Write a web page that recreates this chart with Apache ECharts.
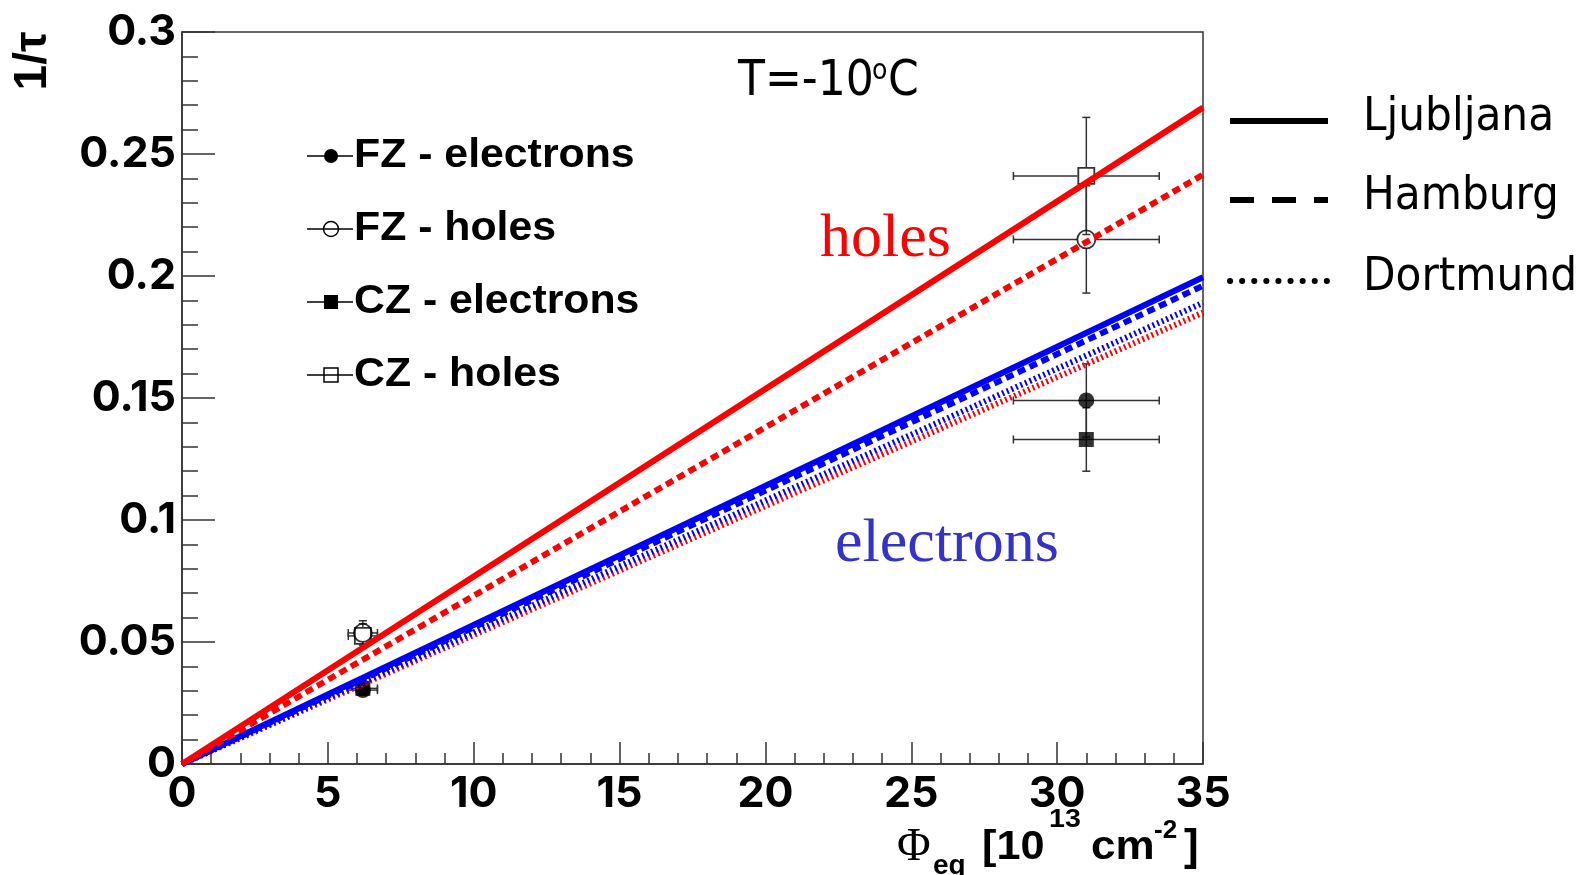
<!DOCTYPE html>
<html>
<head>
<meta charset="utf-8">
<script src="https://cdn.jsdelivr.net/npm/echarts@6/dist/echarts.min.js"></script>
<style>
html,body{margin:0;padding:0;background:#fff;}
#chart{width:1576px;height:875px;}
</style>
</head>
<body>
<div id="chart"></div>
<script>
// ---- data ----
const fluenceRange = [0, 35];
// 1/tau at the start and end of the range (lines through origin)
const ljubljanaHoles = [0, 0.269];
const hamburgHoles = [0, 0.2415];
const dortmundHoles = [0, 0.185];
const ljubljanaElectrons = [0, 0.1995];
const hamburgElectrons = [0, 0.196];
const dortmundElectrons = [0, 0.189];

// measured points: [fluence, 1/tau, xErr, yErr]
const fzElectrons = [[6.2, 0.0303, 0.5, 0.002], [31.0, 0.149, 2.5, 0.015]];
const fzHoles = [[6.2, 0.0537, 0.5, 0.005], [31.0, 0.215, 2.5, 0.022]];
const czElectrons = [[6.2, 0.031, 0.5, 0.002], [31.0, 0.133, 2.5, 0.013]];
const czHoles = [[6.2, 0.0525, 0.5, 0.005], [31.0, 0.241, 2.5, 0.024]];

const legendLeft = ['FZ - electrons', 'FZ - holes', 'CZ - electrons', 'CZ - holes'];
const legendRight = ['Ljubljana', 'Hamburg', 'Dortmund'];

const RED = '#ff0000', BLUE = '#0000ff';
const chart = echarts.init(document.getElementById('chart'));

function lineData(ends) { return fluenceRange.map((x, i) => [x, ends[i]]); }
function lineSeries(ends, color, type, width) {
  return {
    type: 'line', data: lineData(ends), symbol: 'none', z: 5,
    lineStyle: { color: color, width: width, type: type, cap: 'butt' },
    silent: true, animation: false
  };
}
function errSeries(data, gap) {
  return {
    type: 'custom', data: data, z: 2, animation: false, silent: true,
    renderItem: function (params, api) {
      const x = api.value(0), y = api.value(1), ex = api.value(2), ey = api.value(3);
      const p = api.coord([x, y]);
      const l = api.coord([x - ex, y]), r = api.coord([x + ex, y]);
      const t = api.coord([x, y + ey]), b = api.coord([x, y - ey]);
      const c = 4, st = { stroke: '#333', lineWidth: 1.5 };
      const segs = [];
      if (p[0] - l[0] > gap) segs.push([l[0], p[1], p[0] - gap, p[1]]);
      if (r[0] - p[0] > gap) segs.push([p[0] + gap, p[1], r[0], p[1]]);
      if (p[1] - t[1] > gap) segs.push([p[0], t[1], p[0], p[1] - gap]);
      if (b[1] - p[1] > gap) segs.push([p[0], p[1] + gap, p[0], b[1]]);
      segs.push([l[0], p[1] - c, l[0], p[1] + c]);
      segs.push([r[0], p[1] - c, r[0], p[1] + c]);
      segs.push([p[0] - c, t[1], p[0] + c, t[1]]);
      segs.push([p[0] - c, b[1], p[0] + c, b[1]]);
      return { type: 'group', children: segs.map(s => ({ type: 'line', shape: { x1: s[0], y1: s[1], x2: s[2], y2: s[3] }, style: st })) };
    }
  };
}
function markerSeries(data, symbol, size, filled) {
  return {
    type: 'scatter', data: data.map(d => [d[0], d[1]]), symbol: symbol, symbolSize: size, z: 3,
    itemStyle: filled ? { color: '#000' } : { color: 'rgba(0,0,0,0)', borderColor: '#000', borderWidth: 1.8 },
    silent: true, animation: false
  };
}

const TICK_FONT = { fontFamily: 'Inter, "Liberation Sans", Arial, sans-serif', fontWeight: 'bold', fontSize: 43, color: '#000' };
const axisLineStyle = { color: '#333', width: 1.5 };

const graphics = [];
// left legend
const legendRowsY = [156, 229, 302, 375];
legendRowsY.forEach((yy, i) => {
  graphics.push({ type: 'line', shape: { x1: 307, y1: yy, x2: 353, y2: yy }, style: { stroke: '#000', lineWidth: 1.5 } });
  const cx = 331;
  if (i === 0) graphics.push({ type: 'circle', shape: { cx: cx, cy: yy, r: 7 }, style: { fill: '#000' } });
  if (i === 1) graphics.push({ type: 'circle', shape: { cx: cx, cy: yy, r: 7.5 }, style: { fill: 'none', stroke: '#000', lineWidth: 1.5 } });
  if (i === 2) graphics.push({ type: 'rect', shape: { x: cx - 7, y: yy - 7, width: 14, height: 14 }, style: { fill: '#000' } });
  if (i === 3) graphics.push({ type: 'rect', shape: { x: cx - 7, y: yy - 7, width: 14, height: 14 }, style: { fill: 'none', stroke: '#000', lineWidth: 1.5 } });
  graphics.push({ type: 'text', x: 354, y: yy, scaleX: 1.07, style: { text: legendLeft[i], font: 'bold 40px "Liberation Sans", Arial, sans-serif', fill: '#000', verticalAlign: 'middle', align: 'left' } });
});
// right legend
const rightRowsY = [121, 200, 281];
const rightDash = [null, [24, 18], [0.1, 12]];
rightRowsY.forEach((yy, i) => {
  graphics.push({ type: 'line', shape: { x1: 1230, y1: yy, x2: 1328, y2: yy },
    style: { stroke: '#000', lineWidth: 6, lineDash: rightDash[i], lineCap: i === 2 ? 'round' : 'butt' } });
  graphics.push({ type: 'text', x: 1363, y: yy - 3, style: { text: legendRight[i], font: '47px "DejaVu Sans Condensed", "DejaVu Sans", sans-serif', fill: '#000', verticalAlign: 'middle', align: 'left' } });
});
// temperature
const TF = '"DejaVu Sans Condensed", "DejaVu Sans", sans-serif';
graphics.push({ type: 'text', x: 738, y: 82, style: { text: 'T=-10', font: '49px ' + TF, fill: '#000', verticalAlign: 'middle' } });
graphics.push({ type: 'text', x: 872, y: 72, style: { text: 'o', font: '28px ' + TF, fill: '#000', verticalAlign: 'middle' } });
graphics.push({ type: 'text', x: 888, y: 82, style: { text: 'C', font: '49px ' + TF, fill: '#000', verticalAlign: 'middle' } });
// annotations
graphics.push({ type: 'text', x: 820, y: 271, style: { text: 'holes', font: '62px "Liberation Serif", "Times New Roman", serif', fill: RED, verticalAlign: 'bottom' } });
graphics.push({ type: 'text', x: 835, y: 576, style: { text: 'electrons', font: '62px "Liberation Serif", "Times New Roman", serif', fill: '#3333cc', verticalAlign: 'bottom' } });
// y axis title 1/tau
graphics.push({ type: 'text', x: 33, y: 61, rotation: Math.PI / 2, style: { text: '1/τ', font: 'bold 46px "Liberation Sans", Arial, sans-serif', fill: '#000', verticalAlign: 'middle', align: 'center' } });
// x axis title
const XT = 'bold 40px "Liberation Sans", Arial, sans-serif';
const XS = 'bold 26px "Liberation Sans", Arial, sans-serif';
graphics.push({ type: 'text', x: 897, y: 848, style: { text: 'Φ', font: '46px "Liberation Serif", serif', fill: '#000', verticalAlign: 'middle' } });
graphics.push({ type: 'text', x: 933, y: 866, style: { text: 'eq', font: 'bold 28px "Liberation Sans", Arial, sans-serif', fill: '#000', verticalAlign: 'middle' } });
graphics.push({ type: 'text', x: 982, y: 848, scaleX: 1.08, style: { text: '[10', font: XT, fill: '#000', verticalAlign: 'middle' } });
graphics.push({ type: 'text', x: 1049, y: 820, scaleX: 1.1, style: { text: '13', font: XS, fill: '#000', verticalAlign: 'middle' } });
graphics.push({ type: 'text', x: 1091, y: 848, scaleX: 1.1, style: { text: 'cm', font: XT, fill: '#000', verticalAlign: 'middle' } });
graphics.push({ type: 'text', x: 1154, y: 831, style: { text: '-2', font: XS, fill: '#000', verticalAlign: 'middle' } });
graphics.push({ type: 'text', x: 1184, y: 848, style: { text: ']', font: 'bold 44px "Liberation Sans", Arial, sans-serif', fill: '#000', verticalAlign: 'middle' } });

const option = {
  animation: false,
  backgroundColor: '#fff',
  grid: { left: 182, right: 373, top: 32, bottom: 111, show: true, borderColor: '#333', borderWidth: 1.5, backgroundColor: 'rgba(0,0,0,0)' },
  xAxis: {
    type: 'value', min: 0, max: 35, interval: 5,
    axisLine: { show: true, onZero: false, lineStyle: axisLineStyle },
    axisTick: { show: true, inside: true, length: 22, lineStyle: axisLineStyle },
    minorTick: { show: true, splitNumber: 5, length: 11, lineStyle: axisLineStyle },
    splitLine: { show: false }, minorSplitLine: { show: false },
    axisLabel: Object.assign({ margin: 9, showMaxLabel: true, showMinLabel: true }, TICK_FONT)
  },
  yAxis: {
    type: 'value', min: 0, max: 0.3, interval: 0.05,
    axisLine: { show: true, onZero: false, lineStyle: axisLineStyle },
    axisTick: { show: true, inside: true, length: 33, lineStyle: axisLineStyle },
    minorTick: { show: true, splitNumber: 5, length: 16, lineStyle: axisLineStyle },
    splitLine: { show: false }, minorSplitLine: { show: false },
    axisLabel: Object.assign({ margin: 6, formatter: v => String(+(+v).toFixed(2)), showMaxLabel: true }, TICK_FONT)
  },
  graphic: graphics,
  series: [
    errSeries(fzElectrons, 0), errSeries(czElectrons, 0), errSeries(fzHoles, 9), errSeries(czHoles, 9),
    markerSeries(czHoles, 'rect', 16, false),
    markerSeries(fzHoles, 'circle', 18, false),
    markerSeries(czElectrons, 'rect', 15, true),
    markerSeries(fzElectrons, 'circle', 16, true),
    lineSeries(dortmundHoles, RED, [2, 3], 6),
    lineSeries(dortmundElectrons, BLUE, [2, 3], 6),
    lineSeries(hamburgElectrons, BLUE, [8, 5], 6),
    lineSeries(ljubljanaElectrons, BLUE, 'solid', 6),
    lineSeries(hamburgHoles, RED, [8, 5], 6),
    lineSeries(ljubljanaHoles, RED, 'solid', 6)
  ]
};
chart.setOption(option);
</script>
</body>
</html>
